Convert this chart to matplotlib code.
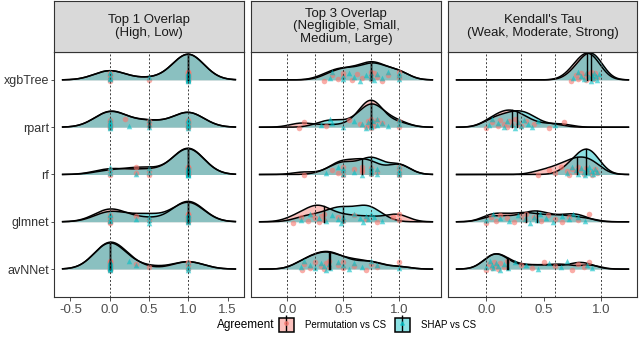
import matplotlib
matplotlib.use('Agg')
import matplotlib.pyplot as plt
from matplotlib.lines import Line2D
from matplotlib.patches import Patch
from matplotlib.legend_handler import HandlerTuple
import numpy as np

plt.rcParams.update({'font.family': ['Liberation Sans', 'DejaVu Sans'], 'font.size': 9.5})

PERM = '#F8766D'; SHAP = '#00BFC4'; BORDER = '#333333'; TXT = '#4D4D4D'

models = ['avNNet', 'glmnet', 'rf', 'rpart', 'xgbTree']   # bottom -> top
panel_titles = ['Top 1 Overlap\n(High, Low)',
                'Top 3 Overlap\n(Negligible, Small,\nMedium, Large)',
                "Kendall's Tau\n(Weak, Moderate, Strong)"]
cutoffs = [[0.0, 0.5, 1.0], [0.0, 0.25, 0.5, 0.75, 1.0], [0.0, 0.3, 0.6, 1.0]]
xticks = [[-0.5, 0.0, 0.5, 1.0, 1.5], [0.0, 0.5, 1.0], [0.0, 0.5, 1.0]]
bandwidth = [0.2, 0.1, 0.087]

# ---- values (one value per dataset) ----
top1_perm = {
    'xgbTree': [0]*5 + [0.5] + [1]*14,
    'rpart':   [0]*8 + [0.2] + [0.5]*3 + [1]*8,
    'rf':      [0]*2 + [0.33]*2 + [0.5]*2 + [1]*14,
    'glmnet':  [0]*6 + [0.33] + [0.5] + [1]*10,
    'avNNet':  [0]*14 + [0.33] + [0.5] + [1]*4,
}
top1_shap = {
    'xgbTree': [0]*5 + [0.5] + [1]*14,
    'rpart':   [0]*8 + [0.25] + [0.5]*3 + [1]*8,
    'rf':      [0]*3 + [0.33] + [0.5]*2 + [1]*15,
    'glmnet':  [0]*5 + [0.33] + [0.5]*3 + [1]*10,
    'avNNet':  [0]*14 + [0.25] + [0.33] + [1]*4,
}
top3_perm = {
    'xgbTree': [0.33, 0.4, 0.45, 0.5, 0.5, 0.58, 0.62, 0.67, 0.75, 0.75, 0.75, 0.78, 0.8, 0.85, 0.9, 1, 1, 1],
    'rpart':   [0.1, 0.15, 0.35, 0.55, 0.65, 0.7, 0.72, 0.73, 0.75, 0.75, 0.75, 0.75, 0.75, 0.75, 0.77, 0.78, 0.8, 0.85, 1, 1],
    'rf':      [0.15, 0.4, 0.45, 0.5, 0.5, 0.5, 0.6, 0.67, 0.67, 0.67, 0.75, 0.75, 0.8, 1, 1, 1, 1],
    'glmnet':  [0.05, 0.12, 0.18, 0.22, 0.25, 0.28, 0.3, 0.33, 0.33, 0.45, 0.5, 0.6, 0.7, 0.8, 0.95, 1, 1],
    'avNNet':  [0.13, 0.15, 0.2, 0.25, 0.3, 0.33, 0.35, 0.37, 0.37, 0.45, 0.5, 0.5, 0.6, 0.7, 0.75, 0.8, 1.0],
}
top3_shap = {
    'xgbTree': [0.38, 0.4, 0.5, 0.5, 0.55, 0.6, 0.65, 0.7, 0.75, 0.75, 0.75, 0.78, 0.8, 0.85, 0.9, 1, 1, 1],
    'rpart':   [0.3, 0.38, 0.4, 0.5, 0.6, 0.67, 0.7, 0.72, 0.75, 0.75, 0.75, 0.75, 0.77, 0.8, 0.8, 0.85, 0.9, 1, 1],
    'rf':      [0.35, 0.45, 0.5, 0.5, 0.5, 0.6, 0.67, 0.75, 0.75, 0.75, 0.75, 0.8, 0.8, 1, 1, 1, 1],
    'glmnet':  [0.12, 0.2, 0.28, 0.35, 0.4, 0.45, 0.48, 0.5, 0.5, 0.6, 0.65, 0.68, 0.7, 0.72, 0.75, 0.78, 0.85],
    'avNNet':  [0.12, 0.15, 0.2, 0.25, 0.3, 0.33, 0.35, 0.37, 0.38, 0.45, 0.5, 0.55, 0.6, 0.67, 0.75, 0.8, 1.0],
}
tau_perm = {
    'xgbTree': [0.74, 0.78, 0.8, 0.83, 0.85, 0.87, 0.88, 0.9, 0.91, 0.92, 0.93, 0.95, 0.97],
    'rpart':   [0.0, 0.05, 0.1, 0.12, 0.15, 0.18, 0.2, 0.22, 0.25, 0.28, 0.3, 0.35, 0.42, 0.55, 0.68],
    'rf':      [0.45, 0.55, 0.6, 0.65, 0.7, 0.72, 0.75, 0.78, 0.8, 0.82, 0.85, 0.87, 0.9, 0.92, 0.95, 0.97],
    'glmnet':  [0.0, 0.04, 0.08, 0.12, 0.18, 0.24, 0.3, 0.34, 0.35, 0.42, 0.48, 0.54, 0.6, 0.66, 0.72, 0.8, 0.9],
    'avNNet':  [0.0, 0.02, 0.05, 0.07, 0.08, 0.1, 0.12, 0.15, 0.18, 0.3, 0.4, 0.5, 0.6, 0.75, 0.8, 0.85, 0.9],
}
tau_shap = {
    'xgbTree': [0.76, 0.8, 0.83, 0.85, 0.87, 0.9, 0.91, 0.92, 0.93, 0.94, 0.96, 0.97, 0.98],
    'rpart':   [0.02, 0.05, 0.1, 0.15, 0.18, 0.22, 0.25, 0.28, 0.3, 0.33, 0.36, 0.4, 0.45, 0.6],
    'rf':      [0.7, 0.75, 0.78, 0.8, 0.83, 0.85, 0.86, 0.88, 0.89, 0.9, 0.92, 0.93, 0.95, 0.97],
    'glmnet':  [0.0, 0.06, 0.12, 0.2, 0.28, 0.34, 0.38, 0.42, 0.44, 0.47, 0.52, 0.58, 0.66, 0.72, 0.76, 0.8, 0.86],
    'avNNet':  [0.0, 0.03, 0.05, 0.06, 0.08, 0.1, 0.12, 0.15, 0.19, 0.25, 0.35, 0.45, 0.55, 0.65, 0.7, 0.88, 0.92],
}
panel_data = [(top1_perm, top1_shap), (top3_perm, top3_shap), (tau_perm, tau_shap)]


def kde(vals, grid, bw):
    v = np.asarray(vals, float)
    z = (grid[:, None] - v[None, :]) / bw
    return np.exp(-0.5 * z**2).sum(1) / (len(v) * bw * np.sqrt(2 * np.pi))


W, H = 640, 354
fig = plt.figure(figsize=(W / 100, H / 100), dpi=100)
panel_px = [(54, 244), (251, 441), (448, 637)]
top_px, bot_px, strip_top = 52, 297, 1

ridge_max = 0.57
for p, (perm, shap) in enumerate(panel_data):
    x0, x1 = panel_px[p]
    ax = fig.add_axes([x0 / W, 1 - bot_px / H, (x1 - x0) / W, (bot_px - top_px) / H])
    bw = bandwidth[p]
    allv = np.concatenate([np.asarray(d[m], float) for d in (perm, shap) for m in models])
    lo, hi = allv.min() - 3 * bw, allv.max() + 3 * bw
    grid = np.linspace(lo, hi, 512)
    dens = {(g, m): kde(d[m], grid, bw) for g, d in enumerate((perm, shap)) for m in models}
    dmax = max(v.max() for v in dens.values())
    for i, m in enumerate(models[::-1]):      # top row first
        base = len(models) - i
        z = 2 + i * 5
        for g, (d, col, mk) in enumerate([(perm, PERM, 'o'), (shap, SHAP, '^')]):
            h = dens[(g, m)] / dmax * ridge_max
            ax.fill_between(grid, base, base + h, color=col, alpha=0.45, lw=0, zorder=z)
            ax.plot(grid, base + h, color='black', lw=1.1, zorder=z + 1)
        for g, (d, col, mk) in enumerate([(perm, PERM, 'o'), (shap, SHAP, '^')]):
            v = np.asarray(d[m], float)
            k = np.arange(len(v))
            jit = ((k * 0.618034 + 0.31 * g) % 1) * 0.2 - 0.02
            ax.scatter(v, base + jit, s=16, marker=mk, color=col, alpha=0.6, lw=0, zorder=z + 2)
            med = np.median(v)
            hm = np.interp(med, grid, dens[(g, m)]) / dmax * ridge_max
            ax.plot([med, med], [base, base + hm], color='black', lw=1.0, zorder=z + 3)
    for c in cutoffs[p]:
        ax.axvline(c, color='#404040', lw=0.7, ls=(0, (2, 2)), zorder=40)
    pad = (hi - lo) * 0.05
    ax.set_xlim(lo - pad, hi + pad)
    ax.set_ylim(0.41, 5.59)
    ax.set_xticks(xticks[p])
    ax.set_xticklabels(['%.1f' % t for t in xticks[p]])
    ax.tick_params(axis='x', colors=BORDER, labelcolor=TXT, labelsize=9.5, length=3, width=0.6, pad=2)
    if p == 0:
        ax.set_yticks(range(1, 6))
        ax.set_yticklabels(models)
        ax.tick_params(axis='y', colors=BORDER, labelcolor='#333333', labelsize=9, length=2.5, width=0.6, pad=1.2)
    else:
        ax.set_yticks([])
    for s in ax.spines.values():
        s.set_color(BORDER); s.set_linewidth(0.8)

    sax = fig.add_axes([x0 / W, 1 - top_px / H, (x1 - x0) / W, (top_px - strip_top) / H])
    sax.set_facecolor('#D9D9D9')
    sax.set_xticks([]); sax.set_yticks([])
    for s in sax.spines.values():
        s.set_color(BORDER); s.set_linewidth(0.8)
    sax.text(0.5, 0.5, panel_titles[p], ha='center', va='center', fontsize=9.5,
             color='#1A1A1A', linespacing=1.05, transform=sax.transAxes)

# legend
fig.text(217 / W, 1 - 325 / H, 'Agreement', ha='left', va='center', fontsize=8.5, color='black')
handles = [
    (Patch(facecolor=PERM, alpha=0.45, edgecolor='none'),
     Patch(facecolor='none', edgecolor='black', lw=1.1),
     Line2D([], [], color='black', marker='|', ls='None', ms=12, mew=1.0),
     Line2D([], [], color=PERM, marker='o', ls='None', ms=2.5, alpha=0.7)),
    (Patch(facecolor=SHAP, alpha=0.45, edgecolor='none'),
     Patch(facecolor='none', edgecolor='black', lw=1.1),
     Line2D([], [], color='black', marker='|', ls='None', ms=12, mew=1.0),
     Line2D([], [], color=SHAP, marker='^', ls='None', ms=2.5, alpha=0.7)),
]
fig.legend(handles, ['Permutation vs CS', 'SHAP vs CS'], loc='center left',
           bbox_to_anchor=(279 / W, 1 - 325 / H), ncol=2, frameon=False, fontsize=7,
           handlelength=1.5, handleheight=1.7, handletextpad=1.2, columnspacing=0.9,
           borderpad=0, borderaxespad=0, handler_map={tuple: HandlerTuple(ndivide=1)})

fig.savefig('out.png', dpi=100)
